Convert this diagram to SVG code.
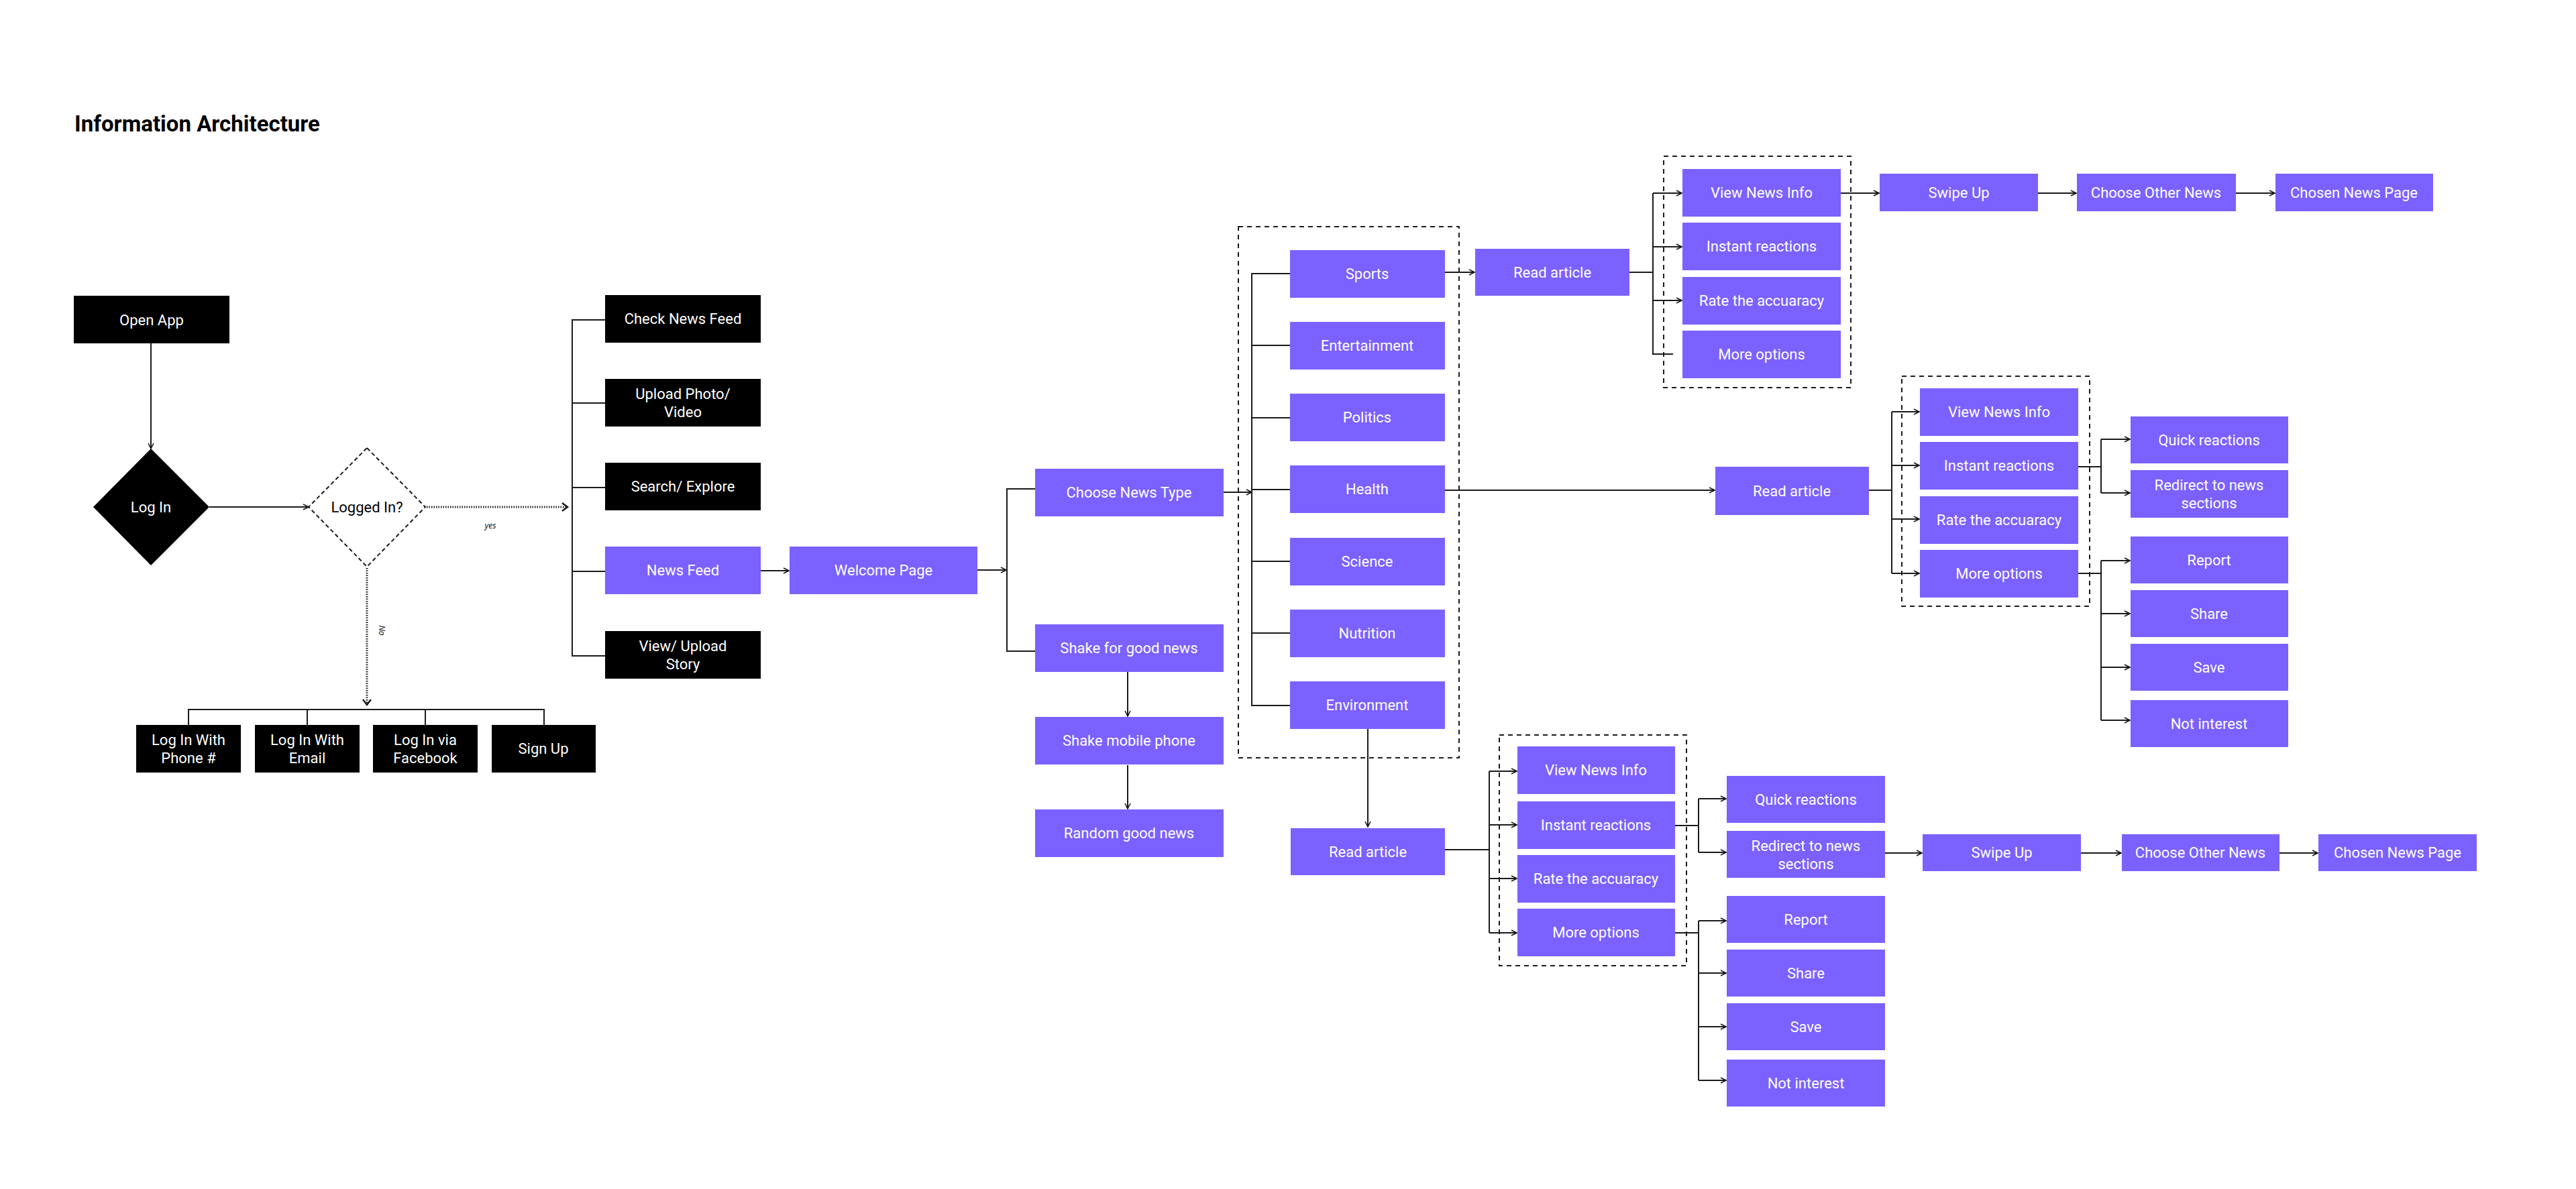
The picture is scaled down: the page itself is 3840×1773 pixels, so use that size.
<svg xmlns="http://www.w3.org/2000/svg" width="3840" height="1773" viewBox="0 0 3840 1773">
<defs>
<style>
.k{fill:#000}
.p{fill:#7B61FF}
.t{fill:#fff;font-family:Roboto,"Liberation Sans",sans-serif;font-size:22px;text-anchor:middle}
.tk{fill:#000;font-family:Roboto,"Liberation Sans",sans-serif;font-size:22px;text-anchor:middle}
.lbl{fill:#000;font-family:"Open Sans","Liberation Sans",sans-serif;font-size:12px;font-style:italic;text-anchor:middle}
.c{fill:none;stroke:#1a1a1a;stroke-width:2}
.ca{fill:none;stroke:#1a1a1a;stroke-width:2;marker-end:url(#a)}
.dot{fill:none;stroke:#1a1a1a;stroke-width:3;stroke-dasharray:1.5 2;marker-end:url(#ad)}
.dash{fill:none;stroke:#1a1a1a;stroke-width:2;stroke-dasharray:7 6}
</style>
<marker id="a" viewBox="0 0 10 10" refX="9" refY="5" markerWidth="10" markerHeight="10" markerUnits="userSpaceOnUse" orient="auto"><path d="M1,1 L9,5 L1,9" fill="none" stroke="#1a1a1a" stroke-width="1.6"/></marker>
<marker id="ad" viewBox="0 0 16 16" refX="11" refY="8" markerWidth="16" markerHeight="16" markerUnits="userSpaceOnUse" orient="auto"><path d="M3,2 L11,8 L3,14" fill="none" stroke="#1a1a1a" stroke-width="2.5"/></marker>
</defs>
<rect width="3840" height="1773" fill="#fff"/>
<text x="111" y="196" font-family="Roboto,'Liberation Sans',sans-serif" font-size="33" font-weight="bold" fill="#000">Information Architecture</text>

<g id="connectors">
<line class="ca" x1="225" y1="512" x2="225" y2="669"/>
<line class="ca" x1="312" y1="756" x2="460" y2="756"/>
<line class="dot" x1="636" y1="756" x2="846" y2="756"/>
<text class="lbl" x="731" y="788">yes</text>
<line class="dot" x1="547" y1="847" x2="547" y2="1051"/>
<text class="lbl" transform="translate(565,940) rotate(90)">No</text>
<path class="c" d="M281,1081 V1058 H811 V1081 M458,1058 V1081 M634,1058 V1081"/>
<path class="c" d="M902,477 H853 V978 H902 M853,601 H902 M853,727 H902 M853,852 H902"/>
<line class="ca" x1="1134" y1="851" x2="1176" y2="851"/>
<line class="ca" x1="1457" y1="850" x2="1500" y2="850"/>
<path class="c" d="M1543,729 H1501 V971 H1543"/>
<line class="ca" x1="1681" y1="1002" x2="1681" y2="1068"/>
<line class="ca" x1="1681" y1="1141" x2="1681" y2="1206"/>
<line class="ca" x1="1824" y1="734" x2="1866" y2="734"/>
<path class="c" d="M1923,408 H1866 V1052 H1923 M1866,515 H1923 M1866,623 H1923 M1866,730 H1923 M1866,837 H1923 M1866,944 H1923"/>
<rect class="dash" x="1846" y="338" width="329" height="792"/>
<line class="ca" x1="2154" y1="406" x2="2198" y2="406"/>
<path class="c" d="M2429,406 H2464 M2464,288 V528 H2494"/>
<line class="ca" x1="2464" y1="288" x2="2507" y2="288"/>
<line class="ca" x1="2464" y1="368" x2="2507" y2="368"/>
<line class="ca" x1="2464" y1="448" x2="2507" y2="448"/>
<rect class="dash" x="2480" y="233" width="279" height="345"/>
<line class="ca" x1="2744" y1="288" x2="2801" y2="288"/>
<line class="ca" x1="3038" y1="288" x2="3095" y2="288"/>
<line class="ca" x1="3333" y1="288" x2="3391" y2="288"/>
<line class="ca" x1="2154" y1="731" x2="2556" y2="731"/>
<path class="c" d="M2786,731 H2820 M2820,614 V855"/>
<line class="ca" x1="2820" y1="614" x2="2861" y2="614"/>
<line class="ca" x1="2820" y1="694" x2="2861" y2="694"/>
<line class="ca" x1="2820" y1="774" x2="2861" y2="774"/>
<line class="ca" x1="2820" y1="855" x2="2861" y2="855"/>
<rect class="dash" x="2835" y="561" width="280" height="343"/>
<path class="c" d="M3098,696 H3132 M3132,655 V735"/>
<line class="ca" x1="3132" y1="655" x2="3175" y2="655"/>
<line class="ca" x1="3132" y1="735" x2="3175" y2="735"/>
<path class="c" d="M3098,855 H3132 M3132,836 V1074"/>
<line class="ca" x1="3132" y1="836" x2="3175" y2="836"/>
<line class="ca" x1="3132" y1="915" x2="3175" y2="915"/>
<line class="ca" x1="3132" y1="995" x2="3175" y2="995"/>
<line class="ca" x1="3132" y1="1074" x2="3175" y2="1074"/>
<line class="ca" x1="2039" y1="1087" x2="2039" y2="1233"/>
<path class="c" d="M2154,1267 H2220 M2220,1150 V1391"/>
<line class="ca" x1="2220" y1="1150" x2="2261" y2="1150"/>
<line class="ca" x1="2220" y1="1230" x2="2261" y2="1230"/>
<line class="ca" x1="2220" y1="1310" x2="2261" y2="1310"/>
<line class="ca" x1="2220" y1="1391" x2="2261" y2="1391"/>
<rect class="dash" x="2235" y="1096" width="279" height="344"/>
<path class="c" d="M2497,1231 H2532 M2532,1191 V1271"/>
<line class="ca" x1="2532" y1="1191" x2="2573" y2="1191"/>
<line class="ca" x1="2532" y1="1271" x2="2573" y2="1271"/>
<line class="ca" x1="2810" y1="1272" x2="2865" y2="1272"/>
<line class="ca" x1="3102" y1="1272" x2="3162" y2="1272"/>
<line class="ca" x1="3398" y1="1272" x2="3455" y2="1272"/>
<path class="c" d="M2497,1391 H2532 M2532,1373 V1611"/>
<line class="ca" x1="2532" y1="1373" x2="2573" y2="1373"/>
<line class="ca" x1="2532" y1="1451" x2="2573" y2="1451"/>
<line class="ca" x1="2532" y1="1531" x2="2573" y2="1531"/>
<line class="ca" x1="2532" y1="1611" x2="2573" y2="1611"/>
</g>

<g id="n-openapp"><rect class="k" x="110" y="441" width="232" height="71"/><text class="t" x="226" y="485">Open App</text></g>
<g id="n-login"><polygon class="k" points="225,669 312,756 225,843 139,756"/><text class="t" x="225" y="764">Log In</text></g>
<g id="n-loggedin"><polygon points="547,668 634,756 547,845 460,756" fill="#fff" stroke="#1a1a1a" stroke-width="2" stroke-dasharray="6 4"/><text class="tk" x="547" y="764">Logged In?</text></g>

<g id="n-phone"><rect class="k" x="203" y="1081" width="156" height="71"/><text class="t" x="281" y="1111">Log In With</text><text class="t" x="281" y="1138">Phone #</text></g>
<g id="n-email"><rect class="k" x="380" y="1081" width="156" height="71"/><text class="t" x="458" y="1111">Log In With</text><text class="t" x="458" y="1138">Email</text></g>
<g id="n-facebook"><rect class="k" x="556" y="1081" width="156" height="71"/><text class="t" x="634" y="1111">Log In via</text><text class="t" x="634" y="1138">Facebook</text></g>
<g id="n-signup"><rect class="k" x="733" y="1081" width="155" height="71"/><text class="t" x="810" y="1124">Sign Up</text></g>

<g id="n-checkfeed"><rect class="k" x="902" y="440" width="232" height="71"/><text class="t" x="1018" y="483">Check News Feed</text></g>
<g id="n-upload"><rect class="k" x="902" y="565" width="232" height="71"/><text class="t" x="1018" y="595">Upload Photo/</text><text class="t" x="1018" y="622">Video</text></g>
<g id="n-search"><rect class="k" x="902" y="690" width="232" height="71"/><text class="t" x="1018" y="733">Search/ Explore</text></g>
<g id="n-newsfeed"><rect class="p" x="902" y="815" width="232" height="71"/><text class="t" x="1018" y="858">News Feed</text></g>
<g id="n-story"><rect class="k" x="902" y="941" width="232" height="71"/><text class="t" x="1018" y="971">View/ Upload</text><text class="t" x="1018" y="998">Story</text></g>

<g id="n-welcome"><rect class="p" x="1177" y="815" width="280" height="71"/><text class="t" x="1317" y="858">Welcome Page</text></g>
<g id="n-choosetype"><rect class="p" x="1543" y="699" width="281" height="71"/><text class="t" x="1683" y="742">Choose News Type</text></g>
<g id="n-shakegood"><rect class="p" x="1543" y="931" width="281" height="71"/><text class="t" x="1683" y="974">Shake for good news</text></g>
<g id="n-shakephone"><rect class="p" x="1543" y="1069" width="281" height="71"/><text class="t" x="1683" y="1112">Shake mobile phone</text></g>
<g id="n-random"><rect class="p" x="1543" y="1207" width="281" height="71"/><text class="t" x="1683" y="1250">Random good news</text></g>

<g id="n-sports"><rect class="p" x="1923" y="373" width="231" height="71"/><text class="t" x="2038" y="416">Sports</text></g>
<g id="n-entertainment"><rect class="p" x="1923" y="480" width="231" height="71"/><text class="t" x="2038" y="523">Entertainment</text></g>
<g id="n-politics"><rect class="p" x="1923" y="587" width="231" height="71"/><text class="t" x="2038" y="630">Politics</text></g>
<g id="n-health"><rect class="p" x="1923" y="694" width="231" height="71"/><text class="t" x="2038" y="737">Health</text></g>
<g id="n-science"><rect class="p" x="1923" y="802" width="231" height="71"/><text class="t" x="2038" y="845">Science</text></g>
<g id="n-nutrition"><rect class="p" x="1923" y="909" width="231" height="71"/><text class="t" x="2038" y="952">Nutrition</text></g>
<g id="n-environment"><rect class="p" x="1923" y="1016" width="231" height="71"/><text class="t" x="2038" y="1059">Environment</text></g>

<g id="n-read1"><rect class="p" x="2199" y="371" width="230" height="70"/><text class="t" x="2314" y="414">Read article</text></g>
<g id="n-view1"><rect class="p" x="2508" y="252" width="236" height="71"/><text class="t" x="2626" y="295">View News Info</text></g>
<g id="n-instant1"><rect class="p" x="2508" y="332" width="236" height="71"/><text class="t" x="2626" y="375">Instant reactions</text></g>
<g id="n-rate1"><rect class="p" x="2508" y="413" width="236" height="71"/><text class="t" x="2626" y="456">Rate the accuaracy</text></g>
<g id="n-more1"><rect class="p" x="2508" y="493" width="236" height="71"/><text class="t" x="2626" y="536">More options</text></g>
<g id="n-swipe1"><rect class="p" x="2802" y="259" width="236" height="56"/><text class="t" x="2920" y="295">Swipe Up</text></g>
<g id="n-other1"><rect class="p" x="3096" y="259" width="237" height="56"/><text class="t" x="3214" y="295">Choose Other News</text></g>
<g id="n-chosen1"><rect class="p" x="3392" y="259" width="235" height="56"/><text class="t" x="3509" y="295">Chosen News Page</text></g>

<g id="n-read2"><rect class="p" x="2557" y="696" width="229" height="72"/><text class="t" x="2671" y="740">Read article</text></g>
<g id="n-view2"><rect class="p" x="2862" y="579" width="236" height="71"/><text class="t" x="2980" y="622">View News Info</text></g>
<g id="n-instant2"><rect class="p" x="2862" y="659" width="236" height="71"/><text class="t" x="2980" y="702">Instant reactions</text></g>
<g id="n-rate2"><rect class="p" x="2862" y="740" width="236" height="71"/><text class="t" x="2980" y="783">Rate the accuaracy</text></g>
<g id="n-more2"><rect class="p" x="2862" y="820" width="236" height="71"/><text class="t" x="2980" y="863">More options</text></g>
<g id="n-quick2"><rect class="p" x="3176" y="621" width="235" height="70"/><text class="t" x="3293" y="664">Quick reactions</text></g>
<g id="n-redirect2"><rect class="p" x="3176" y="701" width="235" height="71"/><text class="t" x="3293" y="731">Redirect to news</text><text class="t" x="3293" y="758">sections</text></g>
<g id="n-report2"><rect class="p" x="3176" y="800" width="235" height="70"/><text class="t" x="3293" y="843">Report</text></g>
<g id="n-share2"><rect class="p" x="3176" y="880" width="235" height="70"/><text class="t" x="3293" y="923">Share</text></g>
<g id="n-save2"><rect class="p" x="3176" y="960" width="235" height="70"/><text class="t" x="3293" y="1003">Save</text></g>
<g id="n-notint2"><rect class="p" x="3176" y="1044" width="235" height="70"/><text class="t" x="3293" y="1087">Not interest</text></g>

<g id="n-read3"><rect class="p" x="1924" y="1235" width="230" height="70"/><text class="t" x="2039" y="1278">Read article</text></g>
<g id="n-view3"><rect class="p" x="2262" y="1113" width="235" height="71"/><text class="t" x="2379" y="1156">View News Info</text></g>
<g id="n-instant3"><rect class="p" x="2262" y="1195" width="235" height="71"/><text class="t" x="2379" y="1238">Instant reactions</text></g>
<g id="n-rate3"><rect class="p" x="2262" y="1275" width="235" height="71"/><text class="t" x="2379" y="1318">Rate the accuaracy</text></g>
<g id="n-more3"><rect class="p" x="2262" y="1355" width="235" height="71"/><text class="t" x="2379" y="1398">More options</text></g>
<g id="n-quick3"><rect class="p" x="2574" y="1157" width="236" height="70"/><text class="t" x="2692" y="1200">Quick reactions</text></g>
<g id="n-redirect3"><rect class="p" x="2574" y="1239" width="236" height="70"/><text class="t" x="2692" y="1269">Redirect to news</text><text class="t" x="2692" y="1296">sections</text></g>
<g id="n-swipe3"><rect class="p" x="2866" y="1244" width="236" height="55"/><text class="t" x="2984" y="1279">Swipe Up</text></g>
<g id="n-other3"><rect class="p" x="3163" y="1244" width="235" height="55"/><text class="t" x="3280" y="1279">Choose Other News</text></g>
<g id="n-chosen3"><rect class="p" x="3456" y="1244" width="236" height="55"/><text class="t" x="3574" y="1279">Chosen News Page</text></g>
<g id="n-report3"><rect class="p" x="2574" y="1336" width="236" height="70"/><text class="t" x="2692" y="1379">Report</text></g>
<g id="n-share3"><rect class="p" x="2574" y="1416" width="236" height="70"/><text class="t" x="2692" y="1459">Share</text></g>
<g id="n-save3"><rect class="p" x="2574" y="1496" width="236" height="70"/><text class="t" x="2692" y="1539">Save</text></g>
<g id="n-notint3"><rect class="p" x="2574" y="1580" width="236" height="70"/><text class="t" x="2692" y="1623">Not interest</text></g>
</svg>
